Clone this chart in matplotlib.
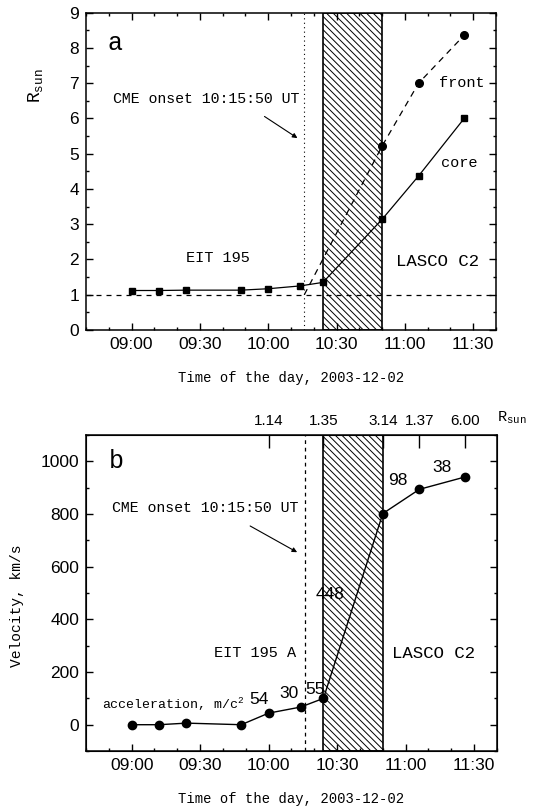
import matplotlib
matplotlib.use('Agg')
import numpy as np
import matplotlib.pyplot as plt
from matplotlib.ticker import MultipleLocator, FuncFormatter

plt.rcParams['font.family'] = ['Liberation Sans', 'DejaVu Sans']
plt.rcParams['mathtext.fontset'] = 'custom'
plt.rcParams['mathtext.rm'] = 'Liberation Mono'
plt.rcParams['mathtext.it'] = 'Liberation Mono'
plt.rcParams['hatch.linewidth'] = 0.7

MONO = 'Liberation Mono'


def minutes(s):
    p = [int(v) for v in s.split(':')]
    return p[0] * 60 + p[1] + (p[2] / 60 if len(p) > 2 else 0)


# data
core_time = ['09:00', '09:12', '09:24', '09:48', '10:00', '10:14', '10:24', '10:50', '11:06', '11:26']
core_r = [1.12, 1.12, 1.13, 1.13, 1.17, 1.25, 1.35, 3.14, 4.37, 6.00]
front_time = ['10:15:50', '10:50', '11:06', '11:26']
front_r = [1.0, 5.22, 7.0, 8.36]
velocity = [0, 0, 6, 0, 44, 67, 100, 802, 894, 941]
accel_labels = ['54', '30', '55', '448', '98', '38']
onset_time = '10:15:50'
gap_start, gap_end = '10:24', '10:50'
rsun_tick_time = ['10:00', '10:24', '10:50', '11:06', '11:26']
rsun_tick_labels = ['1.14', '1.35', '3.14', '1.37', '6.00']

ct = np.array([minutes(t) for t in core_time])
ft = np.array([minutes(t) for t in front_time])
onset = minutes(onset_time)
hatch = '\\\\\\\\\\'

fig = plt.figure(figsize=(5.46, 8.08), dpi=100)
axa = fig.add_axes([0.1575, 0.5916, 0.751, 0.3927])
axb = fig.add_axes([0.1575, 0.0705, 0.7527, 0.391])


def style(ax):
    ax.set_xlim(520, 700)
    ax.xaxis.set_major_locator(MultipleLocator(30))
    ax.xaxis.set_minor_locator(MultipleLocator(10))
    ax.xaxis.set_major_formatter(FuncFormatter(lambda v, _: f"{int(v // 60):02d}:{int(v % 60):02d}"))
    ax.tick_params(which='both', direction='in', top=True, right=True, width=1.0)
    ax.tick_params(which='major', length=5, labelsize=12.5, pad=5)
    ax.tick_params(which='minor', length=2.5)
    for s in ax.spines.values():
        s.set_linewidth(1.1)
    ax.set_xlabel('Time of the day, 2003-12-02', family=MONO, fontsize=10)


# ---- panel a
style(axa)
axa.set_ylim(0, 9)
axa.yaxis.set_major_locator(MultipleLocator(1))
axa.yaxis.set_minor_locator(MultipleLocator(0.5))
axa.axvspan(minutes(gap_start), minutes(gap_end), facecolor='white', edgecolor='black',
            hatch=hatch, lw=1.2, zorder=1)
axa.axhline(1, color='black', ls=(0, (4, 4)), lw=0.9)
axa.axvline(onset, color='black', ls=(0, (1, 3)), lw=0.8)
axa.plot(ct, core_r, '-s', color='black', ms=5, lw=0.9)
axa.plot(ft, front_r, ls=(0, (5, 4)), marker='o', markevery=[1, 2, 3], color='black', ms=5.5, lw=0.9)

axa.text(0.07, 0.905, 'a', transform=axa.transAxes, family=MONO, fontsize=18, ha='center', va='center')
axa.text(onset - 2, 6.54, 'CME onset 10:15:50 UT', family=MONO, fontsize=10.7, ha='right', va='center')
axa.annotate('', xy=(onset - 2, 5.4), xytext=(onset - 18.5, 6.1),
             arrowprops=dict(arrowstyle='-|>', color='black', lw=0.8, mutation_scale=7))
axa.text(578, 2.03, 'EIT 195', family=MONO, fontsize=11, ha='center', va='center')
axa.text(674.5, 1.94, 'LASCO C2', family=MONO, fontsize=12.5, ha='center', va='center')
axa.text(685, 7.0, 'front', family=MONO, fontsize=11, ha='center', va='center')
axa.text(684, 4.73, 'core', family=MONO, fontsize=11, ha='center', va='center')
axa.set_ylabel(r'R$_{\mathrm{sun}}$', family=MONO, fontsize=13)
axa.yaxis.set_label_coords(-0.1, 0.77)
axa.xaxis.set_label_coords(0.5, -0.13)

# ---- panel b
style(axb)
axb.set_ylim(-100, 1100)
axb.yaxis.set_major_locator(MultipleLocator(200))
axb.yaxis.set_minor_locator(MultipleLocator(100))
axb.axvspan(minutes(gap_start), minutes(gap_end), facecolor='white', edgecolor='black',
            hatch=hatch, lw=1.2, zorder=1)
axb.axvline(onset, color='black', ls=(0, (3, 3)), lw=0.9)
axb.plot(ct, velocity, '-o', color='black', ms=6, lw=1.0)

# acceleration labels near the segment midpoints
offsets = [(4, 19), (4, 17), (3, 13), (-23, 11), (-3, 21), (0, 16)]
seg = range(3, 9)
for lbl, i, off in zip(accel_labels, seg, offsets):
    mx = (ct[i] + ct[i + 1]) / 2
    my = (velocity[i] + velocity[i + 1]) / 2
    axb.annotate(lbl, (mx, my), xytext=off, textcoords='offset pixels',
                 fontsize=12.5, ha='center', va='center')

axb.text(0.075, 0.918, 'b', transform=axb.transAxes, family=MONO, fontsize=18, ha='center', va='center')
axb.text(onset - 3, 822, 'CME onset 10:15:50 UT', family=MONO, fontsize=10.7, ha='right', va='center')
axb.annotate('', xy=(onset - 2.3, 650), xytext=(onset - 25, 760),
             arrowprops=dict(arrowstyle='-|>', color='black', lw=0.8, mutation_scale=7))
axb.text(594, 272, 'EIT 195 A', family=MONO, fontsize=11, ha='center', va='center')
axb.text(672, 272, 'LASCO C2', family=MONO, fontsize=12.5, ha='center', va='center')
axb.text(527, 76, r'acceleration, m/c$^2$', family=MONO, fontsize=9.5, ha='left', va='center')
axb.set_ylabel('Velocity, km/s', family=MONO, fontsize=10.5)
axb.yaxis.set_label_coords(-0.15, 0.46)
axb.xaxis.set_label_coords(0.5, -0.13)

ax2 = axb.twiny()
ax2.set_xlim(axb.get_xlim())
ax2.set_xticks([minutes(t) for t in rsun_tick_time])
ax2.set_xticklabels(rsun_tick_labels)
ax2.tick_params(direction='in', length=9, width=1.0, labelsize=11, pad=5)
ax2.xaxis.set_minor_locator(plt.NullLocator())
axb.text(1.0, 1.03, r'R$_{\mathrm{sun}}$', transform=axb.transAxes, family=MONO, fontsize=11,
         ha='left', va='bottom')

fig.savefig('out.png', dpi=100)
